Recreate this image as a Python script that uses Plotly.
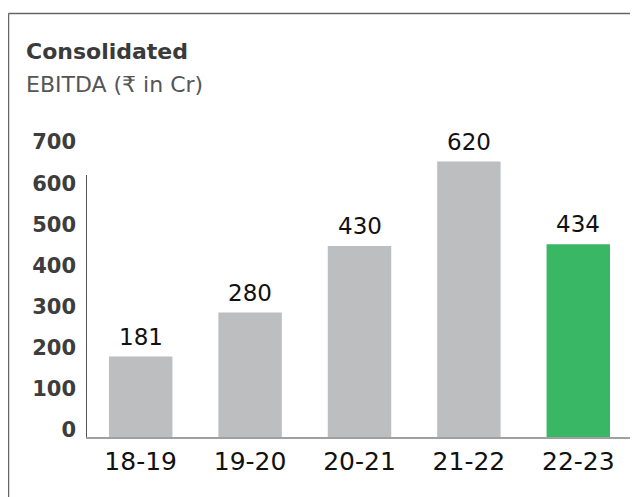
import plotly.graph_objects as go

# ---- data ----
categories = ["18-19", "19-20", "20-21", "21-22", "22-23"]
ebitda = [181, 280, 430, 620, 434]
bar_colors = ["#bdbec0", "#bdbec0", "#bdbec0", "#bdbec0", "#3ab764"]
tick_labels = [0, 100, 200, 300, 400, 500, 600, 700]

title_text = "Consolidated"
subtitle_text = "EBITDA (₹ in Cr)"

# ---- layout constants (pixels) ----
OFF = 8  # page body margin
W, H = 630, 489
ML, MR, MT, MB = 78, 5, 118, 60
PW, PH = W - ML - MR, H - MT - MB
FONT = "DejaVu Sans"

def px_x(p):  # screen pixel x -> paper
    return (p - OFF - ML) / PW

def px_y(p):  # screen pixel y -> paper
    return (H - MB - (p - OFF)) / PH

fig = go.Figure()
fig.add_trace(go.Bar(
    x=categories, y=ebitda,
    marker=dict(color=bar_colors, line=dict(width=0)),
    hoverinfo="skip", showlegend=False,
))
# empty trace so the tick-label axis is drawn
fig.add_trace(go.Scatter(x=[], y=[], yaxis="y2", showlegend=False, hoverinfo="skip"))

for c, v in zip(categories, ebitda):
    fig.add_annotation(x=c, y=v, xref="x", yref="y", text=str(v),
                       showarrow=False, yanchor="bottom", yshift=5,
                       font=dict(family=FONT, size=23, color="#111111"))

fig.update_layout(
    width=W, height=H,
    margin=dict(l=ML, r=MR, t=MT, b=MB),
    paper_bgcolor="white", plot_bgcolor="white",
    bargap=0.42,
    xaxis=dict(
        showgrid=False, zeroline=False, showline=True, linecolor="#a0a0a0", linewidth=2,
        ticks="", tickfont=dict(family=FONT, size=25, color="#111111"),
        ticklabelstandoff=1,
    ),
    yaxis=dict(range=[0, 700], showgrid=False, zeroline=False, showticklabels=False,
               showline=False, ticks=""),
    # tick-label axis (reference labels are spaced on their own scale)
    yaxis2=dict(
        overlaying="y", side="left", range=[-17, 739],
        tickvals=tick_labels, ticktext=[str(v) for v in tick_labels],
        showgrid=False, zeroline=False, showline=False, ticks="",
        tickfont=dict(family=FONT, size=21, color="#3d3d3d", weight="bold"),
        ticklabelstandoff=9,
    ),
    font=dict(family=FONT),
)

# vertical axis line (shorter than plot area, as in reference)
fig.add_shape(type="line", xref="paper", yref="paper",
              x0=px_x(86.5), x1=px_x(86.5), y0=0, y1=px_y(175),
              line=dict(color="#555555", width=1))
# frame: left and top edges
fig.add_shape(type="line", xref="paper", yref="paper",
              x0=px_x(8.5), x1=px_x(8.5), y0=px_y(13.5), y1=px_y(H + 20),
              line=dict(color="#666666", width=1.5))
fig.add_shape(type="line", xref="paper", yref="paper",
              x0=px_x(8.5), x1=px_x(W + 20), y0=px_y(13.5), y1=px_y(13.5),
              line=dict(color="#666666", width=1.5))

fig.add_annotation(text="<b>" + title_text + "</b>", xref="paper", yref="paper",
                   x=px_x(24), y=px_y(52), xanchor="left", yanchor="middle",
                   showarrow=False, font=dict(family=FONT, size=22, color="#3a3a3a"))
fig.add_annotation(text=subtitle_text, xref="paper", yref="paper",
                   x=px_x(24), y=px_y(84), xanchor="left", yanchor="middle",
                   showarrow=False, font=dict(family=FONT, size=22, color="#555555"))

fig.write_html("out.html")
